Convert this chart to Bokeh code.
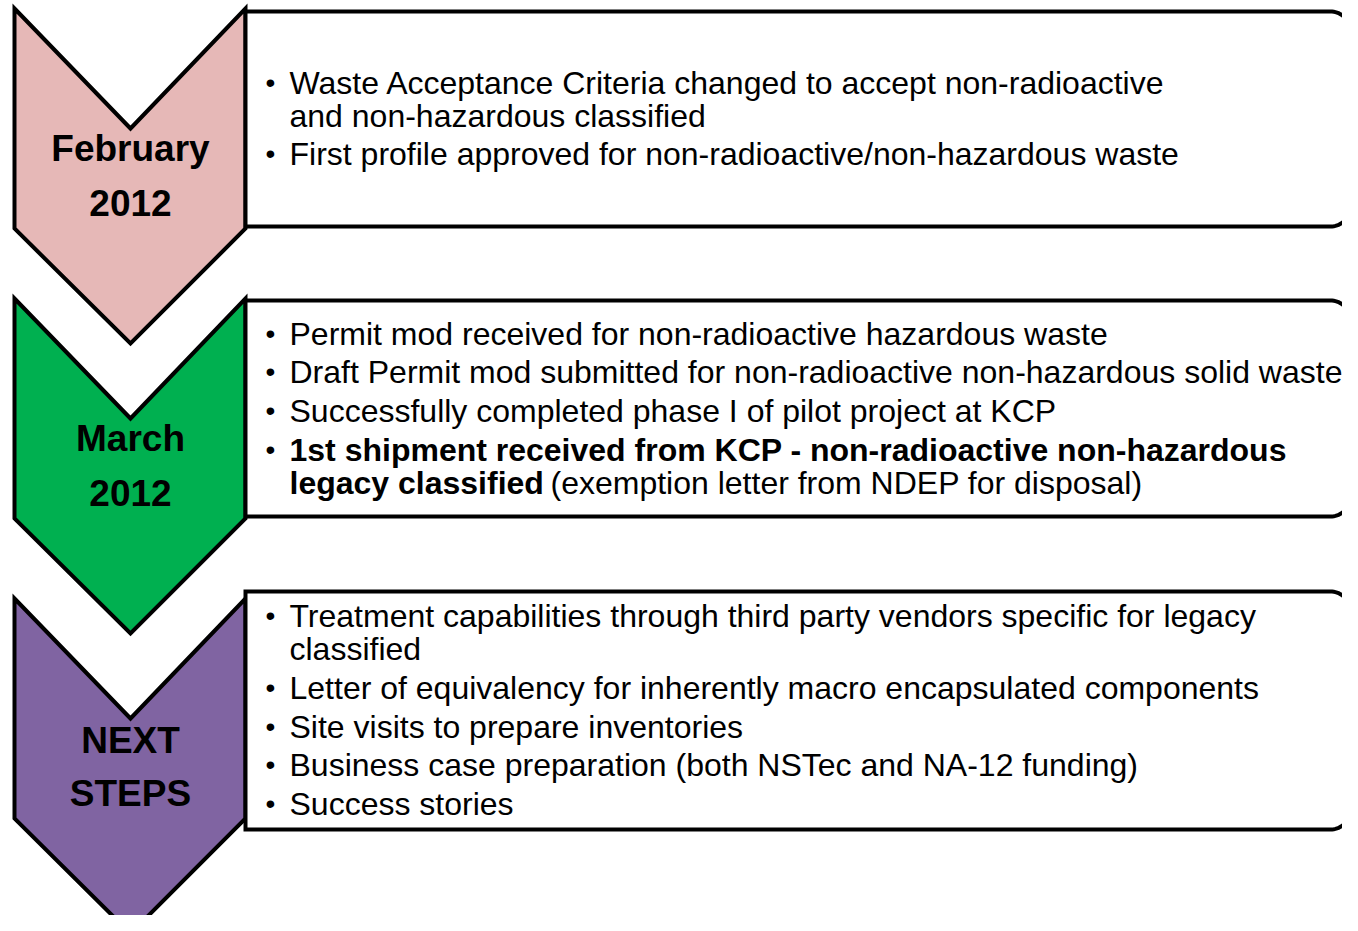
import numpy as np
from bokeh.plotting import figure
from bokeh.models import Range1d
from bokeh.embed import file_html
from bokeh.resources import INLINE
from bokeh.core.properties import value

# ---- content ----
stage_labels = [["February", "2012"], ["March", "2012"], ["NEXT", "STEPS"]]
stage_colors = ["#E6B8B7", "#00B050", "#8064A2"]

box1_lines = [
    "Waste Acceptance Criteria changed to accept non-radioactive",
    "and non-hazardous classified",
    "First profile approved for non-radioactive/non-hazardous waste",
]
box1_bullet = [True, False, True]

box2_lines = [
    "Permit mod received for non-radioactive hazardous waste",
    "Draft Permit mod submitted for non-radioactive non-hazardous solid waste",
    "Successfully completed phase I of pilot project at KCP",
    "1st shipment received from KCP - non-radioactive non-hazardous",
    "legacy classified",
]
box2_bullet = [True, True, True, True, False]
box2_bold = [False, False, False, True, True]
box2_tail = "(exemption letter from NDEP for disposal)"

box3_lines = [
    "Treatment capabilities through third party vendors specific for legacy",
    "classified",
    "Letter of equivalency for inherently macro encapsulated components",
    "Site visits to prepare inventories",
    "Business case preparation (both NSTec and NA-12 funding)",
    "Success stories",
]
box3_bullet = [True, False, True, True, True, True]

# ---- layout ----
FONT = value("Liberation Sans")
chev_left, chev_right, chev_mid = 14, 245, 130
chev_tops = [8, 298, 598]
notch, side_h, tip_h = 120, 220, 335
box_tops = [11, 300, 591]
box_bottoms = [226, 516, 829]
box_right, radius = 1350, 20
label_ys = [(148, 202), (438, 492), (740, 793)]
line_ys = [
    [82, 115, 153],
    [333, 371, 410, 449, 482],
    [615, 648, 687, 726, 764, 803],
]
bullet_x, text_x = 270, 289
tail_x = 550
W, H = 1342, 915

p = figure(width=W, height=H, x_range=Range1d(0, W), y_range=Range1d(H, 0),
           output_backend="svg", toolbar_location=None, min_border=0,
           x_axis_location=None, y_axis_location=None)
p.outline_line_color = None
p.xgrid.visible = False
p.ygrid.visible = False
p.background_fill_color = "white"
p.border_fill_color = "white"

# chevrons
for top, col in zip(chev_tops, stage_colors):
    xs = [chev_left, chev_mid, chev_right, chev_right, chev_mid, chev_left]
    ys = [top, top + notch, top, top + side_h, top + tip_h, top + side_h]
    p.patch(xs, ys, fill_color=col, line_color="black", line_width=4, line_join="miter")


def rounded_box(x0, y0, x1, y1, r):
    t = np.linspace(0, np.pi / 2, 20)
    xs = [x0, x1 - r]
    ys = [y0, y0]
    xs += list(x1 - r + r * np.sin(t))
    ys += list(y0 + r - r * np.cos(t))
    xs += list(x1 - r + r * np.cos(t))
    ys += list(y1 - r + r * np.sin(t))
    xs += [x0]
    ys += [y1]
    return xs, ys


for top, bot in zip(box_tops, box_bottoms):
    xs, ys = rounded_box(chev_right, top, box_right, bot, radius)
    p.patch(xs, ys, fill_color="white", line_color="black", line_width=4, line_join="miter")

# stage labels
for (l1, l2), (y1, y2) in zip(stage_labels, label_ys):
    p.text([chev_mid, chev_mid], [y1, y2], text=[l1, l2], text_font=FONT,
           text_font_size="37px", text_font_style="bold", text_align="center",
           text_baseline="middle", text_color="black")


def draw_lines(lines, bullets, ys, bolds=None):
    for i, (ln, b, y) in enumerate(zip(lines, bullets, ys)):
        bold = bolds[i] if bolds else False
        p.text([text_x], [y], text=[ln], text_font=FONT, text_font_size="32px",
               text_font_style="bold" if bold else "normal", text_align="left",
               text_baseline="middle", text_color="black")
        if b:
            p.text([bullet_x], [y], text=["\u2022"], text_font=FONT, text_font_size="28px",
                   text_align="center", text_baseline="middle", text_color="black")


draw_lines(box1_lines, box1_bullet, line_ys[0])
draw_lines(box2_lines, box2_bullet, line_ys[1], box2_bold)
p.text([tail_x], [line_ys[1][4]], text=[box2_tail], text_font=FONT, text_font_size="32px",
       text_align="left", text_baseline="middle", text_color="black")
draw_lines(box3_lines, box3_bullet, line_ys[2])

open("out.html", "w").write(file_html(p, INLINE))
